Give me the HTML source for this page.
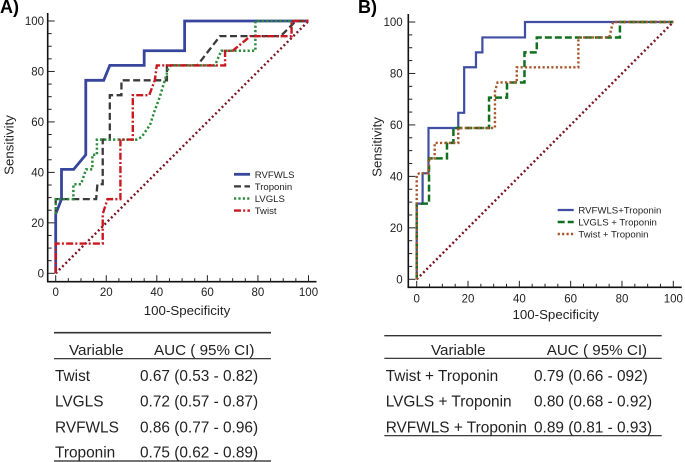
<!DOCTYPE html>
<html>
<head>
<meta charset="utf-8">
<title>ROC curves</title>
<style>
html,body{margin:0;padding:0;background:#fff;width:685px;height:462px;overflow:hidden}
svg{display:block;filter:blur(0.3px)}
text{font-family:"Liberation Sans",sans-serif;fill:#222}
.t{font-size:15.4px}
.h{font-size:15.2px}
</style>
</head>
<body>
<svg id="fig" xmlns="http://www.w3.org/2000/svg" width="685" height="462" viewBox="0 0 685 462">
  <g id="panelA"></g>
  <g id="panelB"></g>

  <g>
    <line x1="54" x2="271" y1="332.7" y2="332.7" stroke="#333" stroke-width="1.6"/>
    <text class="h" x="69" y="355">Variable</text>
    <text class="h" x="154" y="355">AUC ( 95% CI)</text>
    <line x1="54" x2="271" y1="358.7" y2="358.7" stroke="#222" stroke-width="1.2"/>
    <text class="t" x="55" y="381">Twist</text>
    <text class="t" x="140" y="381">0.67 (0.53 - 0.82)</text>
    <text class="t" x="55" y="406.7">LVGLS</text>
    <text class="t" x="140" y="406.7">0.72 (0.57 - 0.87)</text>
    <text class="t" x="55" y="432.7">RVFWLS</text>
    <text class="t" x="140" y="432.7">0.86 (0.77 - 0.96)</text>
    <text class="t" x="55" y="457.5">Troponin</text>
    <text class="t" x="140" y="457.5">0.75 (0.62 - 0.89)</text>
    <line x1="54" x2="271" y1="461" y2="461" stroke="#222" stroke-width="1.2"/>
  </g>

  <g>
    <line x1="384.3" x2="661.7" y1="335.7" y2="335.7" stroke="#333" stroke-width="1.4"/>
    <text class="h" x="431" y="355">Variable</text>
    <text class="h" x="546.7" y="355">AUC ( 95% CI)</text>
    <line x1="384.3" x2="661.7" y1="358.3" y2="358.3" stroke="#222" stroke-width="1.2"/>
    <text class="t" x="385.7" y="381">Twist + Troponin</text>
    <text class="t" x="534" y="381">0.79 (0.66 - 092)</text>
    <text class="t" x="385.7" y="406.7">LVGLS + Troponin</text>
    <text class="t" x="534" y="406.7">0.80 (0.68 - 0.92)</text>
    <text class="t" x="385.7" y="432.7">RVFWLS + Troponin</text>
    <text class="t" x="534" y="432.7">0.89 (0.81 - 0.93)</text>
    <line x1="384.3" x2="661.7" y1="435.7" y2="435.7" stroke="#222" stroke-width="1.2"/>
  </g>
</svg>

<script>
var tickValues = [0, 20, 40, 60, 80, 100];
var minorTickValues = [0, 5, 10, 15, 20, 25, 30, 35, 40, 45, 50, 55, 60, 65, 70, 75, 80, 85, 90, 95, 100];
var diagonalX = [0, 100];
var diagonalY = [0, 100];

var rvfwlsX = [0, 0, 2.3, 2.3, 7.1, 11.9, 11.9, 19, 21.4, 35, 35, 51, 51, 100];
var rvfwlsY = [0, 23.5, 29.4, 41.2, 41.2, 47, 76.5, 76.5, 82.4, 82.4, 88.2, 88.2, 100, 100];
var troponinX = [0, 0, 16, 16.5, 18.6, 18.6, 21.4, 21.4, 26, 26, 44, 44, 56, 65, 89, 95, 100];
var troponinY = [23.5, 29.4, 29.4, 35.3, 35.3, 53, 53, 70.6, 70.6, 76.5, 76.5, 82.4, 82.4, 94, 94, 100, 100];
var lvglsX = [0, 0, 7, 7, 10, 12, 14.5, 14.5, 16.3, 16.3, 32, 34, 37.3, 39, 41.2, 43, 44.5, 45.5, 63, 65.5, 79, 79, 100];
var lvglsY = [23.5, 29.4, 29.4, 35.3, 35.3, 41.2, 41.2, 47, 47, 53, 53, 54, 58.8, 64, 70, 76, 81, 82.4, 82.4, 88.2, 88.2, 100, 100];
var twistX = [0, 0, 18.6, 18.6, 20.5, 25.6, 25.6, 30.5, 30.5, 37, 39.2, 39.2, 40, 67, 67, 70, 77, 93.3, 93.3, 100];
var twistY = [0, 11.8, 11.8, 23.5, 29.4, 29.4, 53, 53, 70.6, 70.6, 76.5, 76.5, 82.4, 82.4, 88.2, 88.2, 94, 94, 100, 100];

var rvfwlsTropX = [0, 0, 2.3, 2.3, 4.6, 4.6, 16.2, 16.2, 18.5, 18.5, 23.1, 23.1, 25.6, 25.6, 42.2, 42.2, 100];
var rvfwlsTropY = [0, 29.4, 29.4, 41.2, 41.2, 58.8, 58.8, 64.7, 64.7, 82.4, 82.4, 88.2, 88.2, 94, 94, 100, 100];
var lvglsTropX = [0, 0, 4.8, 4.8, 11.8, 11.8, 14.3, 14.3, 28.2, 28.2, 35.2, 35.2, 42, 42, 46.8, 46.8, 79.2, 79.2, 100];
var lvglsTropY = [0, 29.4, 29.4, 47, 47, 53, 53, 58.8, 58.8, 70.6, 70.6, 76.5, 76.5, 88.2, 88.2, 94, 94, 100, 100];
var twistTropX = [0, 0, 1, 4.6, 4.6, 7, 7, 16.2, 16.2, 30.5, 30.5, 31.5, 39, 39, 63, 63, 75, 76.5, 100];
var twistTropY = [0, 40.5, 41.2, 41.2, 47, 47, 53, 53, 58.8, 58.8, 73, 76.5, 76.5, 82.4, 82.4, 94, 94, 100, 100];

var legendLabelsA = ["RVFWLS", "Troponin", "LVGLS", "Twist"];
var legendLabelsB = ["RVFWLS+Troponin", "LVGLS + Troponin", "Twist + Troponin"];

var NS = "http://www.w3.org/2000/svg";

function make(parent, tag, attrs, text) {
  var el = document.createElementNS(NS, tag);
  for (var k in attrs) { el.setAttribute(k, attrs[k]); }
  if (text !== undefined) { el.textContent = text; }
  parent.appendChild(el);
  return el;
}

function scale(d0, d1, p0, p1) {
  return function (v) { return p0 + (v - d0) * (p1 - p0) / (d1 - d0); };
}

function linePath(sx, sy, xs, ys) {
  return xs.map(function (x, i) {
    return (i ? "L" : "M") + sx(x).toFixed(2) + " " + sy(ys[i]).toFixed(2);
  }).join(" ");
}

function drawPanel(group, cfg) {
  var sx = scale(0, 100, cfg.x0, cfg.x100);
  var sy = scale(0, 100, cfg.y0, cfg.y100);

  var axisY = make(group, "line", {x1: cfg.axisX, x2: cfg.axisX, y1: cfg.axisTop, y2: cfg.axisY + 0.8, stroke: "#111", "stroke-width": 1.6});
  
  
  var axisX = make(group, "line", {x1: cfg.axisX, x2: cfg.axisRight, y1: cfg.axisY, y2: cfg.axisY, stroke: "#111", "stroke-width": 1.6});
  
  

  minorTickValues.forEach(function (v) {
    var major = tickValues.indexOf(v) >= 0;
    var tx = make(group, "line", {x1: sx(v), x2: sx(v), y1: cfg.axisY, y2: cfg.axisY - (major ? 6.5 : 3.5), stroke: "#222", "stroke-width": 1});
    
    
    var ty = make(group, "line", {x1: cfg.axisX, x2: cfg.axisX + (major ? 7 : 4), y1: sy(v), y2: sy(v), stroke: "#222", "stroke-width": 1});
    
    
  });

  tickValues.forEach(function (v) {
    var lx = make(group, "text", {x: sx(v), y: cfg.xTickBase, "text-anchor": "middle", "font-size": 11.5}, String(v));
    
    
    var ly = make(group, "text", {x: cfg.yTickRight, y: sy(v) + 4, "text-anchor": "end", "font-size": 11.5}, String(v));
    
    
  });

  var xTitle = make(group, "text", {x: cfg.xTitleX, y: cfg.xTitleY, "text-anchor": "middle", "font-size": 13.3}, "100-Specificity");
  
  
  var yTitle = make(group, "text", {x: 0, y: 0, "text-anchor": "middle", "font-size": 13.3, transform: "translate(" + cfg.yTitleX + " " + cfg.yTitleY + ") rotate(-90)"}, "Sensitivity");
  
  
  var label = make(group, "text", {x: cfg.labelX, y: 13, "font-size": 18, "font-weight": "bold", style: "fill:#000"}, cfg.label);
  
  

  var diag = make(group, "path", {d: linePath(sx, sy, diagonalX, diagonalY), fill: "none", stroke: "#7a1522", "stroke-width": 2.4, "stroke-dasharray": "2 2.6"});
  
  

  cfg.series.forEach(function (s, i) {
    var p = make(group, "path", {d: linePath(sx, sy, s.xs, s.ys), fill: "none", stroke: s.color, "stroke-width": s.width, "stroke-dasharray": s.dash, "stroke-linejoin": "miter"});
    
    
    var ly = cfg.legendY + i * cfg.legendStep;
    var k = make(group, "line", {x1: cfg.legendX, x2: cfg.legendX + 16, y1: ly, y2: ly, stroke: s.color, "stroke-width": s.width, "stroke-dasharray": s.dash});
    
    
    var t = make(group, "text", {x: cfg.legendX + 20.7, y: ly + 3.5, "font-size": 9.6}, cfg.legend[i]);
    
    
  });
}

drawPanel(document.getElementById("panelA"), {
  label: "A)", labelX: 0,
  x0: 55.7, x100: 308.5, y0: 273.3, y100: 21,
  axisX: 47.7, axisY: 281.7, axisTop: 13, axisRight: 316.5,
  xTickBase: 296, yTickRight: 44,
  xTitleX: 187, xTitleY: 315, yTitleX: 13.5, yTitleY: 145,
  legendX: 234, legendY: 174.3, legendStep: 12.1, legend: legendLabelsA,
  series: [
    {name: "rvfwls", xs: rvfwlsX, ys: rvfwlsY, color: "#37469c", width: 2.8, dash: "none"},
    {name: "troponin", xs: troponinX, ys: troponinY, color: "#3a3a3c", width: 2.3, dash: "7 3.5"},
    {name: "lvgls", xs: lvglsX, ys: lvglsY, color: "#2b8c3c", width: 2.5, dash: "2.2 2.2"},
    {name: "twist", xs: twistX, ys: twistY, color: "#c9181f", width: 2.4, dash: "7 2.2 2 2.2"}
  ]
});

drawPanel(document.getElementById("panelB"), {
  label: "B)", labelX: 358,
  x0: 416.7, x100: 673.3, y0: 279.3, y100: 22,
  axisX: 408.3, axisY: 287.3, axisTop: 14, axisRight: 681.7,
  xTickBase: 302.7, yTickRight: 402.7,
  xTitleX: 555.7, xTitleY: 319, yTitleX: 381.5, yTitleY: 147,
  legendX: 557.7, legendY: 210, legendStep: 12, legend: legendLabelsB,
  series: [
    {name: "rvfwls-troponin", xs: rvfwlsTropX, ys: rvfwlsTropY, color: "#3f4da3", width: 2.2, dash: "none"},
    {name: "lvgls-troponin", xs: lvglsTropX, ys: lvglsTropY, color: "#11701f", width: 2.5, dash: "7 3"},
    {name: "twist-troponin", xs: twistTropX, ys: twistTropY, color: "#a9562b", width: 2.4, dash: "2.2 2.2"}
  ]
});
</script>
</body>
</html>
